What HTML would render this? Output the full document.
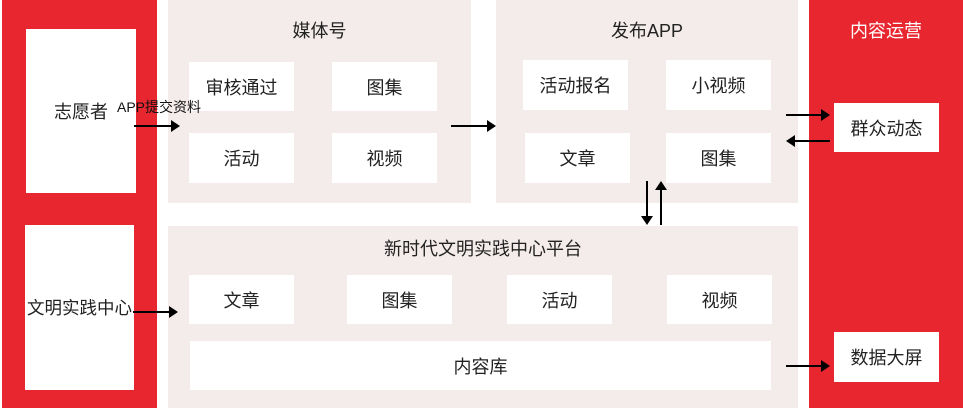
<!DOCTYPE html>
<html><head><meta charset="utf-8"><style>
body{margin:0;width:963px;height:410px;background:#fff;position:relative;overflow:hidden;font-family:"Liberation Sans","Noto Sans CJK SC",sans-serif;color:#222}
div{position:absolute;box-sizing:border-box}
.r{background:#e8262f}
.p{background:#f4ecea}
.b{background:#fff;display:flex;align-items:center;justify-content:center;font-size:18px}
.t{font-size:18px;text-align:center}
</style></head><body>
<div class="r" style="left:2px;top:0;width:155px;height:408px"></div>
<div class="b" style="left:26px;top:29px;width:110px;height:164px">志愿者</div>
<div class="b" style="left:25px;top:225px;width:109px;height:165px;font-size:17.5px;white-space:nowrap">文明实践中心</div>
<div class="p" style="left:168px;top:0;width:303px;height:203px"></div>
<div class="t" style="left:168px;top:17px;width:303px">媒体号</div>
<div class="b" style="left:189px;top:62px;width:105px;height:49px">审核通过</div>
<div class="b" style="left:332px;top:62px;width:105px;height:49px">图集</div>
<div class="b" style="left:189px;top:133px;width:105px;height:50px">活动</div>
<div class="b" style="left:332px;top:133px;width:105px;height:50px">视频</div>
<div class="p" style="left:496px;top:0;width:302px;height:203px"></div>
<div class="t" style="left:496px;top:17px;width:302px">发布APP</div>
<div class="b" style="left:523px;top:60px;width:105px;height:50px">活动报名</div>
<div class="b" style="left:666px;top:60px;width:105px;height:50px">小视频</div>
<div class="b" style="left:525px;top:133px;width:105px;height:50px">文章</div>
<div class="b" style="left:666px;top:133px;width:105px;height:50px">图集</div>
<div class="p" style="left:168px;top:226px;width:630px;height:182px"></div>
<div class="t" style="left:168px;top:235px;width:630px">新时代文明实践中心平台</div>
<div class="b" style="left:189px;top:275px;width:105px;height:49px">文章</div>
<div class="b" style="left:347px;top:275px;width:105px;height:49px">图集</div>
<div class="b" style="left:507px;top:275px;width:105px;height:49px">活动</div>
<div class="b" style="left:667px;top:275px;width:105px;height:49px">视频</div>
<div class="b" style="left:190px;top:341px;width:581px;height:49px">内容库</div>
<div class="r" style="left:809px;top:0;width:154px;height:408px"></div>
<div class="t" style="left:809px;top:17px;width:154px;color:#fff">内容运营</div>
<div class="b" style="left:834px;top:103px;width:105px;height:49px">群众动态</div>
<div class="b" style="left:834px;top:332px;width:105px;height:50px">数据大屏</div>
<div style="left:117px;top:97px;font-size:14px;white-space:nowrap;color:#111">APP提交资料</div>
<svg width="963" height="410" style="position:absolute;left:0;top:0">
<g stroke="#000" stroke-width="2" fill="#000">
<line x1="134" y1="126" x2="172" y2="126"/><polygon points="180,126 171,120 171,132" stroke="none"/>
<line x1="133" y1="312" x2="170" y2="312"/><polygon points="178,312 169,306 169,318" stroke="none"/>
<line x1="451" y1="126" x2="488" y2="126"/><polygon points="496,126 487,120 487,132" stroke="none"/>
<line x1="786" y1="115" x2="822" y2="115"/><polygon points="830,115 821,109 821,121" stroke="none"/>
<line x1="830" y1="141" x2="794" y2="141"/><polygon points="786,141 795,135 795,147" stroke="none"/>
<line x1="786" y1="366" x2="822" y2="366"/><polygon points="830,366 821,360 821,372" stroke="none"/>
<line x1="647" y1="181" x2="647" y2="217"/><polygon points="647,225 641,216 653,216" stroke="none"/>
<line x1="661" y1="225" x2="661" y2="189"/><polygon points="661,181 655,190 667,190" stroke="none"/>
</g></svg>
</body></html>
